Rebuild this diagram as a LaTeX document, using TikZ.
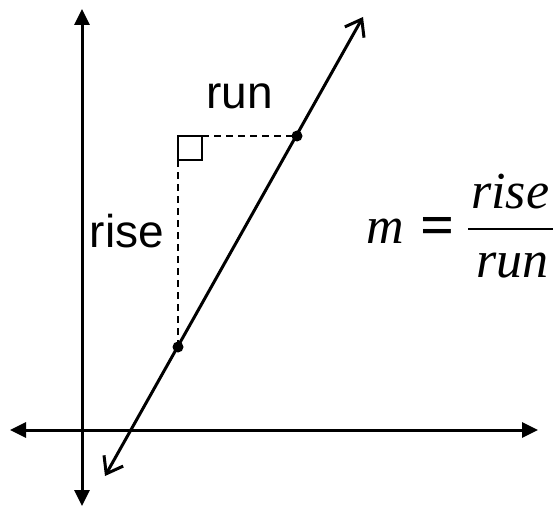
\documentclass[tikz,border=0pt]{standalone}
\usepackage{fontspec}
\setmainfont{Liberation Sans}
\newfontfamily\tnr{Liberation Serif}
\usetikzlibrary{arrows.meta}
\tikzset{
  axisline/.style={line width=3pt,{Triangle[width=15pt,length=16pt]}-{Triangle[width=15pt,length=16pt]}},
  slopeline/.style={line width=3pt,{Straight Barb[length=15pt,width=22pt,line width=3pt]}-{Straight Barb[length=15pt,width=22pt,line width=3pt]}},
  guide/.style={line width=1.6pt,dash pattern=on 7pt off 5pt},
  dotpt/.style={circle,fill=black,inner sep=0pt,minimum size=11pt},
  lbl/.style={font=\fontsize{46}{55}\selectfont,inner sep=0pt,anchor=base},
  eqtxt/.style={font=\fontsize{52}{62}\selectfont\tnr\itshape,inner sep=0pt,anchor=base west},
  eqsign/.style={font=\fontsize{60}{70}\selectfont\tnr\bfseries,inner sep=0pt,anchor=base}
}
\begin{document}
\begin{tikzpicture}[x=1pt,y=-1pt]
\useasboundingbox (0,0) rectangle (553,508);
% axes
\coordinate (ytop) at (82,9);
\coordinate (ybot) at (82,506);
\coordinate (xl) at (10,430);
\coordinate (xr) at (538,430);
\draw[axisline] (ybot) -- (ytop);
\draw[axisline] (xl) -- (xr);
% slope line
\coordinate (lb) at (105,476);
\coordinate (lt) at (363,17);
\draw[slopeline] (lb) -- (lt);
% points
\node[dotpt] (p1) at (297,136) {};
\node[dotpt] (p2) at (178,347) {};
\coordinate (c) at (178,136);
\draw[guide] (c) -- (p1.center);
\draw[guide] (c) -- (p2.center);
\draw[line width=1.6pt] (c) rectangle ++(24,24);
% labels
\node[lbl] (run) at (239.5,108) {run};
\node[lbl] (rise) at (127,247) {rise};
% formula
\node[eqtxt] (m) at (366,243) {m};
\node[eqsign] (eq) at (437.5,245) {=};
\node[eqtxt] (num) at (471,208) {rise};
\node[eqtxt] (den) at (476,277) {run};
\coordinate (bl) at (468,229);
\coordinate (br) at (560,229);
\draw[line width=1.4pt] (bl) -- (br);
\end{tikzpicture}
\end{document}
